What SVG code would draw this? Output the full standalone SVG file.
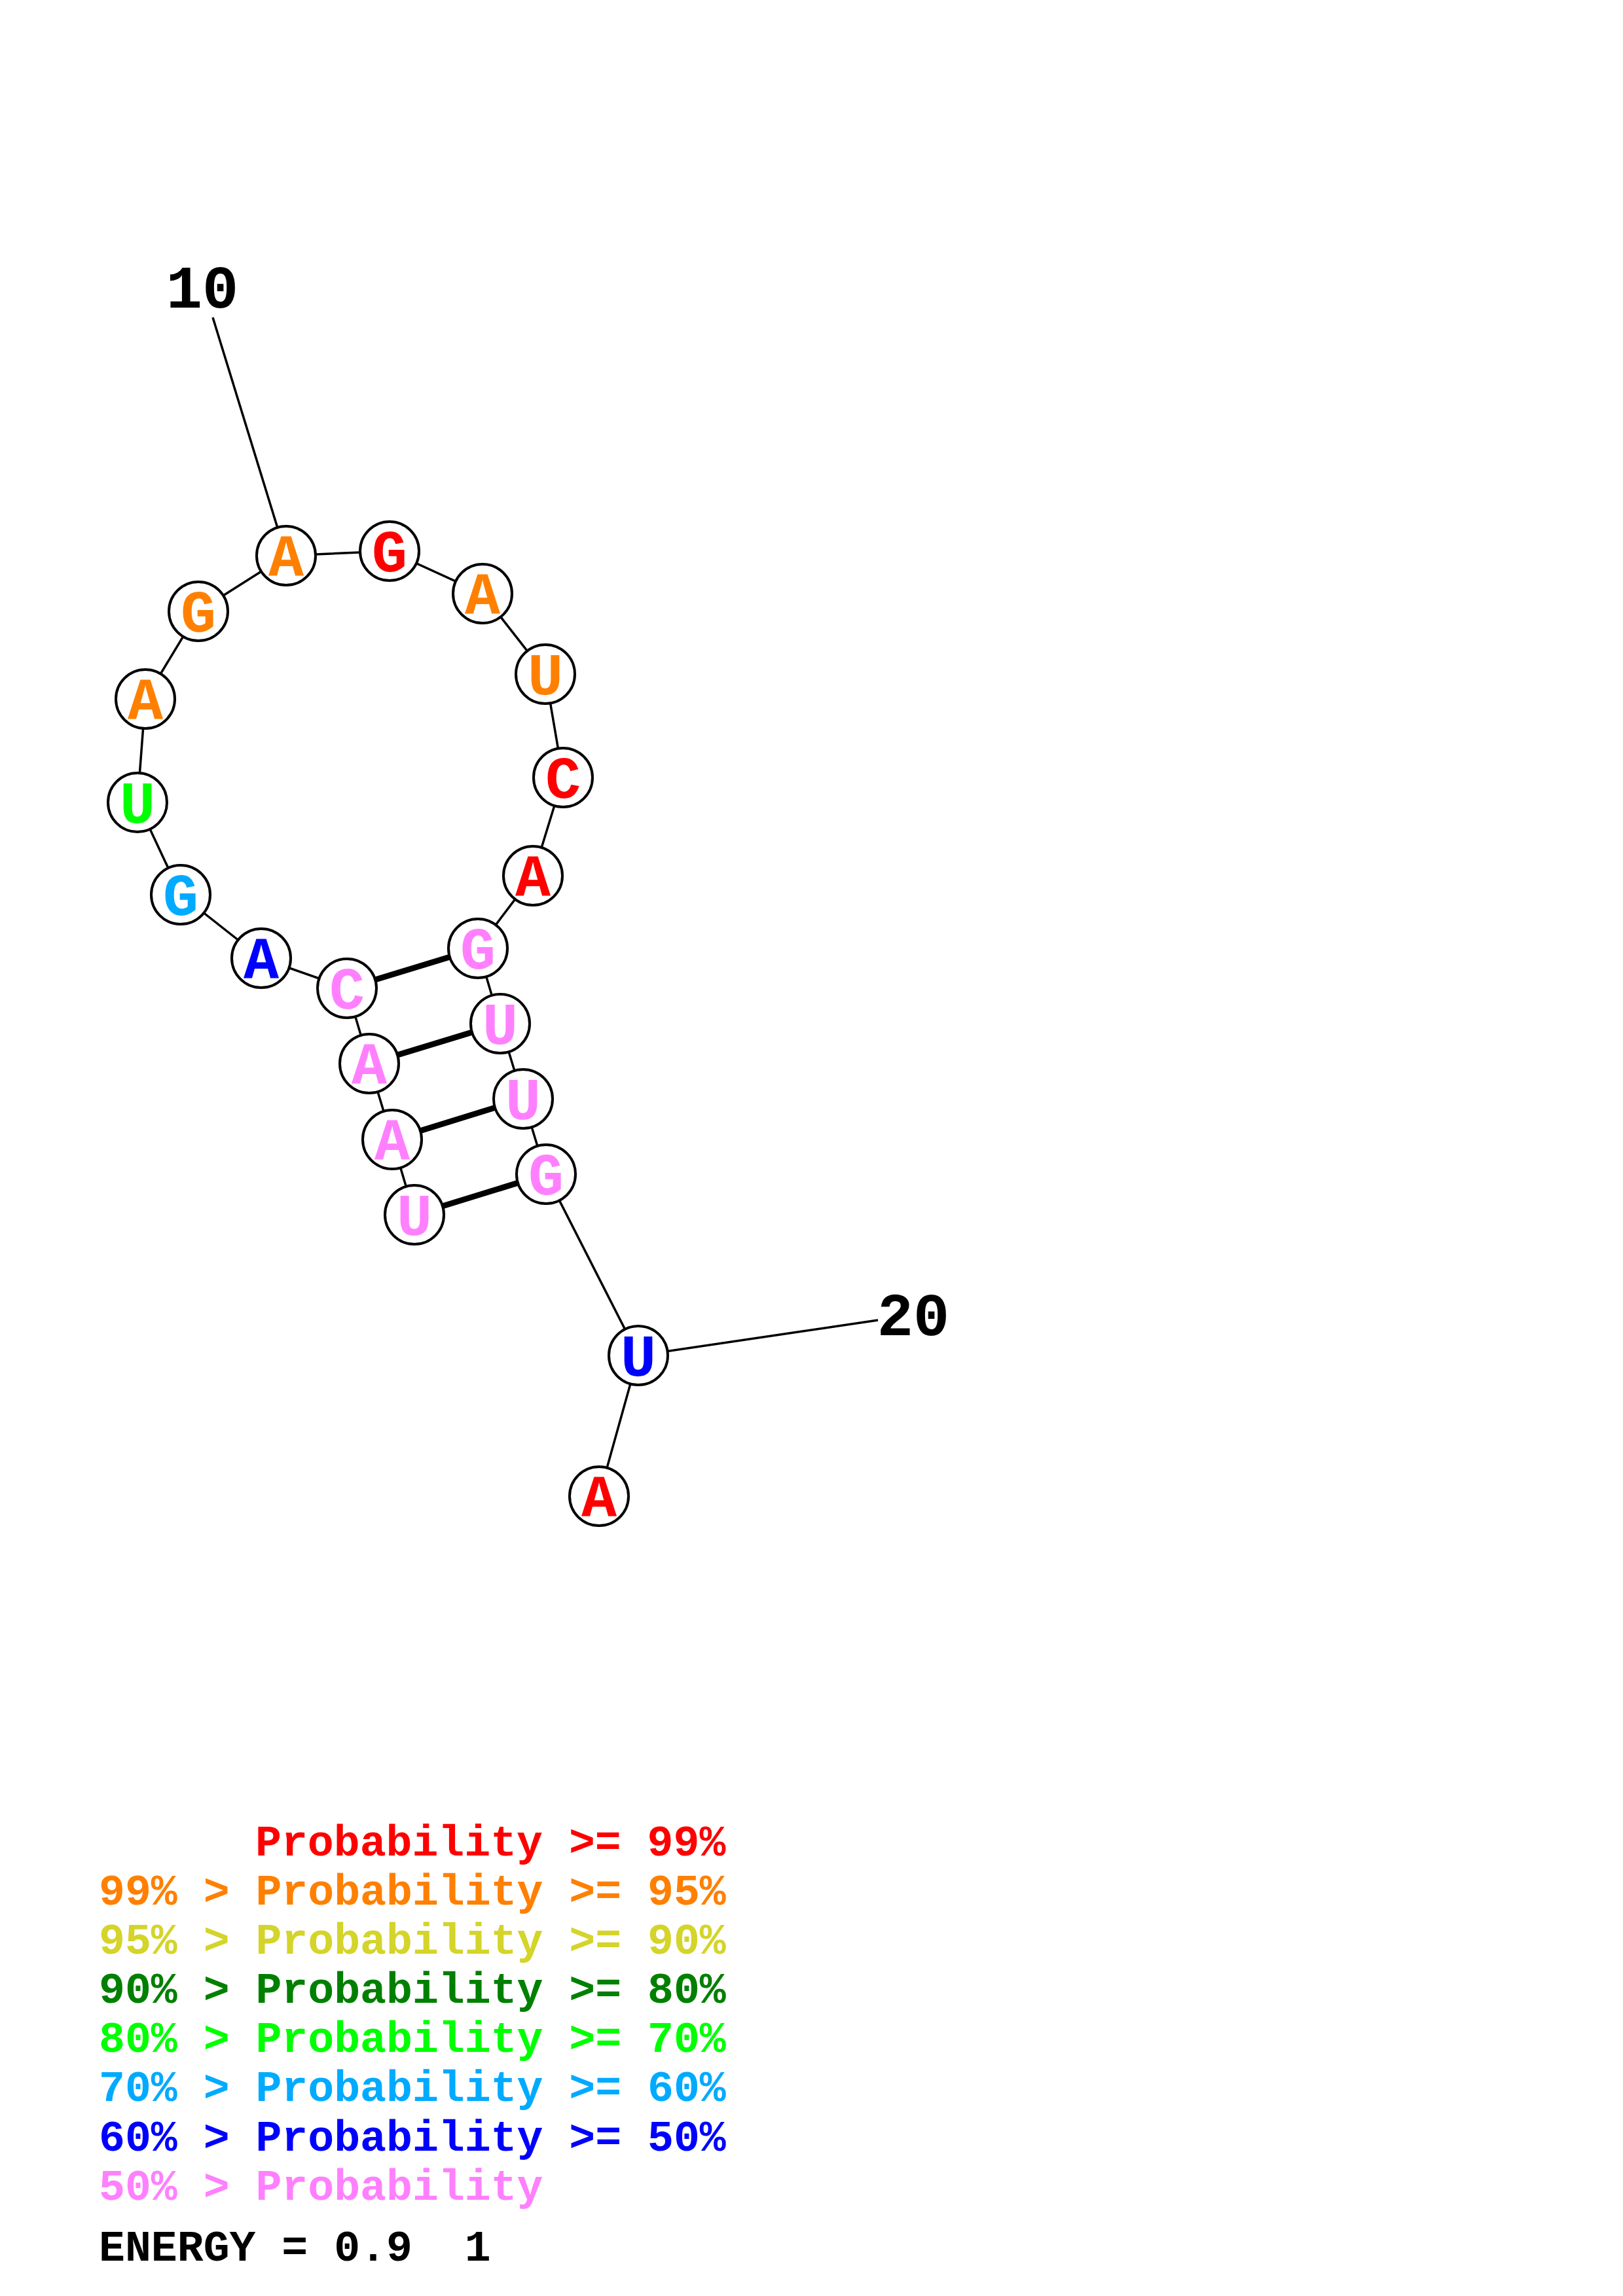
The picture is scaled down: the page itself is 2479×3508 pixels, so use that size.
<svg xmlns="http://www.w3.org/2000/svg" width="2479" height="3508" viewBox="0 0 2479 3508">
<style>
.bb{stroke:#000;stroke-width:3.5;fill:none}
.pr{stroke:#000;stroke-width:9;fill:none}
.nd{fill:#fff;stroke:#000;stroke-width:4}
.nt{font-family:"Liberation Mono","Courier New",monospace;font-weight:bold;font-size:90px;text-anchor:middle}
.lb{font-family:"Liberation Mono","Courier New",monospace;font-weight:bold;font-size:92px;text-anchor:middle;fill:#000}
.lg{font-family:"Liberation Mono","Courier New",monospace;font-weight:bold;font-size:66.5px}
.c0{fill:#FF0000}.c1{fill:#FF8000}.c2{fill:#D4D42A}.c3{fill:#008000}.c4{fill:#00FF00}.c5{fill:#00AAFF}.c6{fill:#0000FF}.c7{fill:#FF80FF}
</style>
<rect width="2479" height="3508" fill="#fff"/>
<g id="connectors">
<polyline class="bb" points="633,1856 599,1741 564,1625 530,1510 399,1464 276,1367 210,1226 222,1068 303,934 437,849 595,842 737,907 833,1030 860,1188 814,1338 730,1449 764,1564 799,1679 834,1794 975,2071 915,2286"/>
<line class="bb" x1="325" y1="485" x2="437" y2="849"/>
<line class="bb" x1="1341" y1="2017" x2="975" y2="2071"/>
<line class="pr" x1="530" y1="1510" x2="730" y2="1449"/>
<line class="pr" x1="564" y1="1625" x2="764" y2="1564"/>
<line class="pr" x1="599" y1="1741" x2="799" y2="1679"/>
<line class="pr" x1="633" y1="1856" x2="834" y2="1794"/>
</g>
<g id="n1"><circle class="nd" cx="633" cy="1856" r="45"/><text class="nt c7" x="633" y="1887">U</text></g>
<g id="n2"><circle class="nd" cx="599" cy="1741" r="45"/><text class="nt c7" x="599" y="1772">A</text></g>
<g id="n3"><circle class="nd" cx="564" cy="1625" r="45"/><text class="nt c7" x="564" y="1656">A</text></g>
<g id="n4"><circle class="nd" cx="530" cy="1510" r="45"/><text class="nt c7" x="530" y="1541">C</text></g>
<g id="n5"><circle class="nd" cx="399" cy="1464" r="45"/><text class="nt c6" x="399" y="1495">A</text></g>
<g id="n6"><circle class="nd" cx="276" cy="1367" r="45"/><text class="nt c5" x="276" y="1398">G</text></g>
<g id="n7"><circle class="nd" cx="210" cy="1226" r="45"/><text class="nt c4" x="210" y="1257">U</text></g>
<g id="n8"><circle class="nd" cx="222" cy="1068" r="45"/><text class="nt c1" x="222" y="1099">A</text></g>
<g id="n9"><circle class="nd" cx="303" cy="934" r="45"/><text class="nt c1" x="303" y="965">G</text></g>
<g id="n10"><circle class="nd" cx="437" cy="849" r="45"/><text class="nt c1" x="437" y="880">A</text></g>
<g id="n11"><circle class="nd" cx="595" cy="842" r="45"/><text class="nt c0" x="595" y="873">G</text></g>
<g id="n12"><circle class="nd" cx="737" cy="907" r="45"/><text class="nt c1" x="737" y="938">A</text></g>
<g id="n13"><circle class="nd" cx="833" cy="1030" r="45"/><text class="nt c1" x="833" y="1061">U</text></g>
<g id="n14"><circle class="nd" cx="860" cy="1188" r="45"/><text class="nt c0" x="860" y="1219">C</text></g>
<g id="n15"><circle class="nd" cx="814" cy="1338" r="45"/><text class="nt c0" x="814" y="1369">A</text></g>
<g id="n16"><circle class="nd" cx="730" cy="1449" r="45"/><text class="nt c7" x="730" y="1480">G</text></g>
<g id="n17"><circle class="nd" cx="764" cy="1564" r="45"/><text class="nt c7" x="764" y="1595">U</text></g>
<g id="n18"><circle class="nd" cx="799" cy="1679" r="45"/><text class="nt c7" x="799" y="1710">U</text></g>
<g id="n19"><circle class="nd" cx="834" cy="1794" r="45"/><text class="nt c7" x="834" y="1825">G</text></g>
<g id="n20"><circle class="nd" cx="975" cy="2071" r="45"/><text class="nt c6" x="975" y="2102">U</text></g>
<g id="n21"><circle class="nd" cx="915" cy="2286" r="45"/><text class="nt c0" x="915" y="2317">A</text></g>
<g id="labels">
<text class="lb" x="309" y="470">10</text>
<text class="lb" x="1395" y="2040">20</text>
</g>
<g id="legend">
<text class="lg c0" x="390" y="2835">Probability &gt;= 99%</text>
<text class="lg c1" x="151" y="2910">99% &gt; Probability &gt;= 95%</text>
<text class="lg c2" x="151" y="2985">95% &gt; Probability &gt;= 90%</text>
<text class="lg c3" x="151" y="3060">90% &gt; Probability &gt;= 80%</text>
<text class="lg c4" x="151" y="3135">80% &gt; Probability &gt;= 70%</text>
<text class="lg c5" x="151" y="3210">70% &gt; Probability &gt;= 60%</text>
<text class="lg c6" x="151" y="3286">60% &gt; Probability &gt;= 50%</text>
<text class="lg c7" x="151" y="3361">50% &gt; Probability</text>
<text class="lg" x="151" y="3454" fill="#000" xml:space="preserve">ENERGY = 0.9  1</text>
</g>
</svg>
